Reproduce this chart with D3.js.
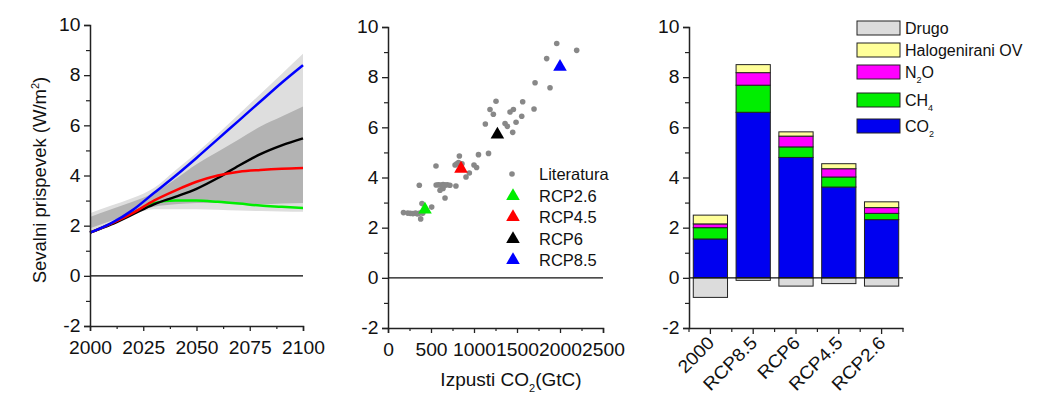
<!DOCTYPE html>
<html><head><meta charset="utf-8">
<script src="https://cdn.jsdelivr.net/npm/d3@7"></script>
<style>
body{margin:0;background:#fff;}
text{font-family:"Liberation Sans",Arial,sans-serif;fill:#111;}
</style></head>
<body><svg id="c" width="1049" height="394"></svg>
<script>
// ---------- Panel 1 data: forcing pathways ----------
const years = [2000, 2010, 2020, 2030, 2040, 2050, 2060, 2070, 2080, 2090, 2100];
const rcp85 = [1.72, 2.1, 2.62, 3.3, 3.98, 4.7, 5.45, 6.2, 6.95, 7.7, 8.4];
const rcp45 = [1.72, 2.08, 2.5, 3.0, 3.4, 3.75, 4.0, 4.15, 4.22, 4.27, 4.3];
const rcp6  = [1.72, 2.05, 2.45, 2.85, 3.15, 3.47, 3.9, 4.4, 4.85, 5.2, 5.48];
const rcp26 = [1.72, 2.08, 2.5, 2.9, 3.0, 3.0, 2.95, 2.88, 2.8, 2.75, 2.7];
const outerUpper = [2.5, 2.8, 3.1, 3.5, 4.2, 4.9, 5.65, 6.45, 7.25, 8.05, 8.85];
const outerLower = [1.8, 2.1, 2.45, 2.65, 2.65, 2.65, 2.63, 2.6, 2.58, 2.56, 2.55];
const innerUpper = [2.35, 2.65, 2.95, 3.3, 3.85, 4.45, 4.95, 5.45, 5.95, 6.35, 6.75];
const innerLower = [1.9, 2.2, 2.5, 2.75, 2.85, 2.9, 2.9, 2.85, 2.85, 2.88, 2.9];
const yearTicks = [2000, 2025, 2050, 2075, 2100];
const forcingTicks = [-2, 0, 2, 4, 6, 8, 10];

// ---------- Panel 2 data: cumulative emissions vs forcing ----------
const litX = [180, 230, 260, 290, 320, 340, 360, 390, 405, 380, 395, 508,
  364, 560, 585, 605, 625, 640, 655, 670, 690, 720, 790, 605, 640, 663,
  558, 780, 800, 820, 840, 860, 830, 1000, 1030, 946, 907, 1052, 1169,
  1132, 1186, 1225, 1256, 1361, 1388, 1419, 1458, 1450, 1489, 1555, 1566, 1698, 1710, 1845, 1884, 1962, 2194];
const litY = [2.6, 2.58, 2.57, 2.56, 2.58, 2.55, 2.57, 2.6, 2.58, 2.35, 2.96, 2.82,
  3.69, 3.7, 3.71, 3.7, 3.69, 3.72, 3.7, 3.7, 3.71, 3.69, 3.66, 3.49, 3.56, 3.18,
  4.46, 4.5, 4.55, 4.6, 4.5, 4.55, 4.86, 4.5, 4.4, 4.18, 4.02, 4.91, 4.96,
  6.13, 6.71, 6.52, 7.04, 6.15, 6.04, 6.61, 6.71, 5.8, 6.2, 6.44, 7.02, 6.73, 7.78, 8.74, 7.58, 9.34, 9.07];
const rcpNames = ["RCP2.6", "RCP4.5", "RCP6", "RCP8.5"];
const rcpEmis = [430, 849, 1272, 2000];
const rcpForc = [2.72, 4.35, 5.71, 8.41];
const rcpColors = ["#00ee00", "#ff0000", "#000000", "#0000ff"];
const emisTicks = [0, 500, 1000, 1500, 2000, 2500];

// ---------- Panel 3 data: forcing by agent ----------
const barCats = ["2000", "RCP8.5", "RCP6", "RCP4.5", "RCP2.6"];
const co2  = [1.55, 6.6, 4.8, 3.62, 2.32];
const ch4  = [0.45, 1.08, 0.42, 0.4, 0.25];
const n2o  = [0.15, 0.5, 0.43, 0.33, 0.23];
const halo = [0.35, 0.32, 0.17, 0.2, 0.23];
const drugo = [-0.78, -0.1, -0.33, -0.23, -0.33];
const agentKeys = ["CO2", "CH4", "N2O", "Halo", "Drugo"];
const agentColors = {CO2:"#0000f0", CH4:"#00ee00", N2O:"#ff00ff", Halo:"#ffff99", Drugo:"#dcdcdc"};

const svg = d3.select("#c");
svg.append("rect").attr("width",1049).attr("height",394).attr("fill","#fff");
const AX = "#222";
const fmt = d => String(d);
const TICKFS = "18px";
const STRETCH = "scale(1.07,1)";

function styleAxis(g){
  g.select(".domain").attr("stroke",AX).attr("stroke-width",1.5);
  g.selectAll(".tick line").attr("stroke",AX).attr("stroke-width",1.3);
  g.selectAll("text").style("font-size",TICKFS).attr("fill","#111");
}
function yAxes(x0, y, minor){
  const g = svg.append("g").attr("transform",`translate(${x0},0)`);
  g.call(d3.axisLeft(y).tickValues(forcingTicks).tickSize(6).tickPadding(3).tickFormat(fmt));
  styleAxis(g);
  g.selectAll("text").attr("transform",STRETCH);
  const m = svg.append("g").attr("transform",`translate(${x0},0)`);
  m.call(d3.axisLeft(y).tickValues(minor).tickSize(4).tickFormat(""));
  m.select(".domain").remove();
  m.selectAll(".tick line").attr("stroke",AX).attr("stroke-width",1.2);
}

// ================= Panel 1 =================
{
  const x = d3.scaleLinear().domain([2000,2100]).range([90,303]);
  const y = d3.scaleLinear().domain([-2,10]).range([326,25]);
  const pts = years.map((yr,i)=>i);
  const band = (lo,hi)=>d3.area().x(i=>x(years[i])).y0(i=>y(lo[i])).y1(i=>y(hi[i])).curve(d3.curveMonotoneX);
  svg.append("path").attr("d",band(outerLower,outerUpper)(pts)).attr("fill","#dedede");
  svg.append("path").attr("d",band(innerLower,innerUpper)(pts)).attr("fill","#b3b3b3");
  svg.append("line").attr("x1",x(2000)).attr("x2",x(2100)).attr("y1",y(0)).attr("y2",y(0)).attr("stroke","#000").attr("stroke-width",1.3);
  const line = arr=>d3.line().x(i=>x(years[i])).y(i=>y(arr[i])).curve(d3.curveMonotoneX)(pts);
  [[rcp26,"#00ee00"],[rcp6,"#000"],[rcp45,"#ff0000"],[rcp85,"#0000ff"]].forEach(([a,c])=>{
    svg.append("path").attr("d",line(a)).attr("fill","none").attr("stroke",c).attr("stroke-width",2.5);
  });
  yAxes(90, y, [-1,1,3,5,7,9]);
  const gx = svg.append("g").attr("transform",`translate(0,${y(-2)})`);
  gx.call(d3.axisBottom(x).tickValues(yearTicks).tickSize(5).tickFormat(fmt));
  styleAxis(gx);
  gx.selectAll("text").attr("y",15).attr("transform",STRETCH);
  const mx = svg.append("g").attr("transform",`translate(0,${y(-2)})`);
  mx.call(d3.axisBottom(x).tickValues([2012.5,2037.5,2062.5,2087.5]).tickSize(3).tickFormat(""));
  mx.select(".domain").remove();
  mx.selectAll(".tick line").attr("stroke",AX).attr("stroke-width",1.2);
  const t = svg.append("text").attr("transform","translate(46,180) rotate(-90)")
    .attr("text-anchor","middle").style("font-size","18.5px");
  t.append("tspan").text("Sevalni prispevek (W/m");
  t.append("tspan").text("2").attr("dy",-7).style("font-size","11px");
  t.append("tspan").text(")").attr("dy",7);
}

// ================= Panel 2 =================
{
  const x = d3.scaleLinear().domain([0,2500]).range([388,603]);
  const y = d3.scaleLinear().domain([-2,10]).range([328,27]);
  svg.append("line").attr("x1",x(0)).attr("x2",x(2500)).attr("y1",y(0)).attr("y2",y(0)).attr("stroke","#111").attr("stroke-width",1.3);
  svg.append("g").selectAll("circle").data(litX).join("circle")
    .attr("cx",(d)=>x(d)).attr("cy",(d,i)=>y(litY[i])).attr("r",2.8).attr("fill","#888");
  const tri = d3.symbol().type(d3.symbolTriangle).size(80);
  svg.append("g").selectAll("path").data(rcpEmis).join("path")
    .attr("d",tri).attr("transform",(d,i)=>`translate(${x(d)},${y(rcpForc[i])})`)
    .attr("fill",(d,i)=>rcpColors[i]);
  yAxes(388, y, [-1,1,3,5,7,9]);
  const gx = svg.append("g").attr("transform",`translate(0,${y(-2)})`);
  gx.call(d3.axisBottom(x).tickValues(emisTicks).tickSize(5).tickFormat(fmt));
  styleAxis(gx);
  gx.selectAll("text").attr("y",15).attr("transform",STRETCH);
  const mx = svg.append("g").attr("transform",`translate(0,${y(-2)})`);
  mx.call(d3.axisBottom(x).tickValues([250,750,1250,1750,2250]).tickSize(3).tickFormat(""));
  mx.select(".domain").remove();
  mx.selectAll(".tick line").attr("stroke",AX).attr("stroke-width",1.2);
  // legend
  const lg = svg.append("g");
  const ly = [174, 196, 217, 239, 260];
  lg.append("circle").attr("cx",512).attr("cy",ly[0]).attr("r",2.8).attr("fill","#888");
  lg.append("text").attr("x",539).attr("y",ly[0]+6).style("font-size","16.5px").text("Literatura");
  rcpNames.forEach((n,i)=>{
    lg.append("path").attr("d",tri).attr("transform",`translate(513,${ly[i+1]})`).attr("fill",rcpColors[i]);
    lg.append("text").attr("x",539).attr("y",ly[i+1]+6).style("font-size","16.5px").text(n);
  });
  const t = svg.append("text").attr("x",511).attr("y",386).attr("text-anchor","middle").style("font-size","19px");
  t.append("tspan").text("Izpusti CO");
  t.append("tspan").text("2").attr("dy",6).style("font-size","11px");
  t.append("tspan").text("(GtC)").attr("dy",-6);
}

// ================= Panel 3 =================
{
  const x = d3.scaleBand().domain(barCats).range([689,903]).paddingInner(0.2).paddingOuter(0.1);
  const y = d3.scaleLinear().domain([-2,10]).range([328,27]);
  const rows = barCats.map((c,i)=>({cat:c, CO2:co2[i], CH4:ch4[i], N2O:n2o[i], Halo:halo[i], Drugo:drugo[i]}));
  const series = d3.stack().keys(agentKeys).offset(d3.stackOffsetDiverging)(rows);
  series.forEach(s=>{
    svg.append("g").selectAll("rect").data(s).join("rect")
      .attr("x",d=>x(d.data.cat)).attr("width",x.bandwidth())
      .attr("y",d=>y(Math.max(d[0],d[1]))).attr("height",d=>Math.abs(y(d[0])-y(d[1])))
      .attr("fill",agentColors[s.key]).attr("stroke","#222").attr("stroke-width",1);
  });
  svg.append("line").attr("x1",689).attr("x2",903).attr("y1",y(0)).attr("y2",y(0)).attr("stroke","#111").attr("stroke-width",1.3);
  yAxes(689, y, [-1,1,3,5,7,9]);
  const gx = svg.append("g").attr("transform",`translate(0,${y(-2)})`);
  gx.call(d3.axisBottom(x).tickSize(6).tickSizeOuter(0));
  styleAxis(gx);
  gx.selectAll("text").attr("text-anchor","end").attr("x",0).attr("y",0).attr("dy",0)
    .attr("transform","translate(5,16) rotate(-45) " + STRETCH);
  const centers = barCats.map(c=>x(c)+x.bandwidth()/2);
  const mids = [689].concat(centers.map((c,i)=>i<centers.length-1?(c+centers[i+1])/2:903));
  const mg = svg.append("g").attr("transform",`translate(0,${y(-2)})`);
  mg.selectAll("line").data(mids).join("line")
    .attr("x1",d=>d).attr("x2",d=>d).attr("y1",0).attr("y2",4).attr("stroke",AX).attr("stroke-width",1.2);
  // legend
  const legItems = [["Drugo","Drugo",null],["Halo","Halogenirani OV",null],["N2O","N","O"],["CH4","CH","4"],["CO2","CO","2"]];
  const legTop = [21, 43, 65, 93, 119];
  legItems.forEach(([k,label,extra],i)=>{
    svg.append("rect").attr("x",857).attr("y",legTop[i]).attr("width",43).attr("height",14)
      .attr("fill",agentColors[k]).attr("stroke","#222").attr("stroke-width",1);
    const t = svg.append("text").attr("x",905).attr("y",legTop[i]+13).style("font-size","16px");
    t.append("tspan").text(label);
    if(k==="N2O"){
      t.append("tspan").text("2").attr("dy",5).style("font-size","9px");
      t.append("tspan").text("O").attr("dy",-5);
    } else if(extra){
      t.append("tspan").text(extra).attr("dy",5).style("font-size","9px");
    }
  });
}
</script></body></html>
